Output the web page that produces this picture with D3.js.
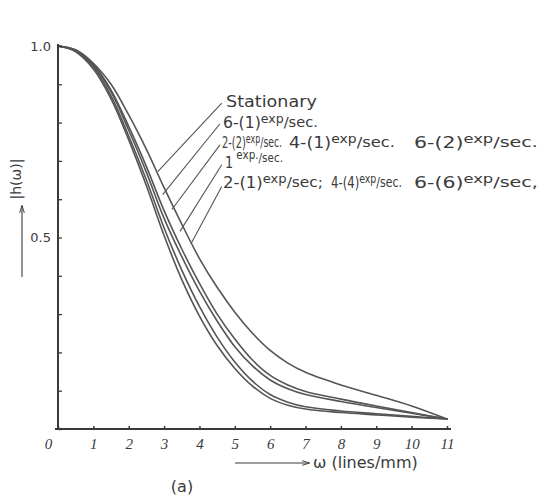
<!DOCTYPE html>
<html><head><meta charset="utf-8">
<script src="https://cdn.jsdelivr.net/npm/d3@7"></script>
<style>body{margin:0;background:#fff}svg{display:block}</style>
</head><body><svg id="c" width="551" height="497"></svg>
<script>
// ---- data ----
const omega = [0,0.5,1,1.5,2,2.5,3,3.5,4,4.5,5,5.5,6,6.5,7,8,9,10,11];
const stationary = [1,0.99,0.955,0.9,0.82,0.73,0.63,0.535,0.445,0.37,0.305,0.25,0.205,0.172,0.148,0.115,0.088,0.06,0.026];
const exp61      = [1,0.989,0.952,0.885,0.79,0.685,0.57,0.47,0.38,0.3,0.235,0.18,0.14,0.115,0.098,0.078,0.06,0.043,0.026];
const exp22      = [1,0.988,0.95,0.88,0.78,0.67,0.55,0.45,0.36,0.282,0.215,0.165,0.128,0.105,0.09,0.072,0.056,0.041,0.026];
const exp1       = [1,0.987,0.945,0.87,0.765,0.65,0.525,0.415,0.32,0.24,0.175,0.125,0.09,0.07,0.058,0.047,0.04,0.033,0.026];
const exp21      = [1,0.985,0.94,0.862,0.755,0.635,0.505,0.39,0.295,0.218,0.158,0.112,0.08,0.062,0.052,0.043,0.037,0.031,0.026];
const seriesList = [stationary, exp61, exp22, exp1, exp21];
const xTicks = [0,1,2,3,4,5,6,7,8,9,10,11];
const xTickLabels = ["0","1","2","3","4","5","6","7","8","9","10","11"];
const yMinorTicks = [0,0.1,0.2,0.3,0.4,0.5,0.6,0.7,0.8,0.9,1.0];
const yTickLabels = [0.5,1.0];
// leader lines: label-side anchor and curve-side anchor, as (omega, value)
const leaderFrom = [[4.63,0.851],[4.58,0.797],[4.58,0.742],[4.63,0.690],[4.63,0.633]];
const leaderTo   = [[2.82,0.672],[2.96,0.612],[3.22,0.573],[3.45,0.516],[3.78,0.487]];
// label groups: [main text, superscript, tail]
const labelLines = [
  [["Stationary","",""]],
  [["6-(1)","exp","/sec."]],
  [["2-(2)","exp","/sec."],["4-(1)","exp","/sec."],["6-(2)","exp","/sec."]],
  [["1","exp.","/sec."]],
  [["2-(1)","exp","/sec;"],["4-(4)","exp","/sec."],["6-(6)","exp","/sec,"]]
];
const xTitle = "ω (lines/mm)";
const yTitle = "|h(ω)|";
const caption = "(a)";

// ---- layout ----
const svg = d3.select("#c");
const x = d3.scaleLinear().domain([0,11]).range([58,447]);
const y = d3.scaleLinear().domain([0,1]).range([429,46]);
const ink = "#3a3a3a", curveInk = "#555";

// curves
const line = d3.line().x((d,i)=>x(omega[i])).y(d=>y(d)).curve(d3.curveCatmullRom.alpha(0.5));
svg.append("g").selectAll("path").data(seriesList).join("path")
  .attr("d", d=>line(d)).attr("fill","none").attr("stroke",curveInk)
  .attr("stroke-width",1.6).attr("stroke-linecap","round");

// x axis
const xa = svg.append("g").attr("transform",`translate(0,${y(0)})`)
  .call(d3.axisBottom(x).tickValues(xTicks).tickFormat((d,i)=>xTickLabels[i])
    .tickSizeInner(-3).tickSizeOuter(0).tickPadding(9));
xa.select(".domain").attr("stroke",ink).attr("stroke-width",2).attr("d",`M${x(0)-3},0H${x(11)+4}`);
xa.selectAll(".tick line").attr("stroke",ink).attr("stroke-width",1.5);
xa.selectAll(".tick text").attr("font-family","Liberation Serif, serif").attr("font-style","italic")
  .attr("font-size",15).attr("fill",ink).attr("dx",(d)=>d===0?-10:0);

// y axis minor ticks
const ya = svg.append("g").attr("transform",`translate(${x(0)},0)`)
  .call(d3.axisRight(y).tickValues(yMinorTicks).tickFormat("").tickSizeInner(4).tickSizeOuter(0));
ya.select(".domain").attr("stroke",ink).attr("stroke-width",2).attr("d",`M0,${y(1)-2}V${y(0)+1}`);
ya.selectAll(".tick line").attr("stroke",ink).attr("stroke-width",1.3);
const yl = svg.append("g").attr("transform",`translate(${x(0)},0)`)
  .call(d3.axisLeft(y).tickValues(yTickLabels).tickFormat(d3.format(".1f")).tickSize(0).tickPadding(7));
yl.select(".domain").remove();
yl.selectAll(".tick text").attr("font-family","DejaVu Sans, sans-serif").attr("font-size",13).attr("fill",ink);

// leaders
svg.append("g").selectAll("line").data(leaderFrom).join("line")
  .attr("x1",d=>x(d[0])).attr("y1",d=>y(d[1]))
  .attr("x2",(d,i)=>x(leaderTo[i][0])).attr("y2",(d,i)=>y(leaderTo[i][1]))
  .attr("stroke",curveInk).attr("stroke-width",1.1);

// labels (each group horizontally fitted to the width it takes in the reference)
const lineBase = [107,128,148,168,188];
const groupX = [[226],[223],[222,289,414],[225],[223,331,414]];
const groupW = [[91],[95],[60,106,124],[58],[100,71,124]];
labelLines.forEach((grps,li)=>{
  grps.forEach((g,gi)=>{
    const gg = svg.append("g");
    const t = gg.append("text").attr("x",0).attr("y",0)
      .attr("font-family","DejaVu Sans, sans-serif").attr("font-size",li===3?16:15).attr("fill",ink);
    t.append("tspan").text(g[0]);
    if(g[1]){
      if(li===3){
        t.append("tspan").attr("dy",-9).attr("dx",4).attr("font-size",13).text(g[1]);
        t.append("tspan").attr("dy",3).attr("font-size",13).text(g[2]);
      } else {
        t.append("tspan").attr("dy",-5).attr("font-size",12).text(g[1]);
        t.append("tspan").attr("dy",4).attr("font-size",14).text(g[2]);
      }
    }
    const w = t.node().getBBox().width;
    const sx = Math.max(0.6, Math.min(1.4, groupW[li][gi]/w));
    gg.attr("transform",`translate(${groupX[li][gi]},${lineBase[li]}) scale(${sx},1)`);
  });
});

// x title with arrow
svg.append("defs").append("marker").attr("id","ar").attr("viewBox","0 0 10 10")
  .attr("refX",9).attr("refY",5).attr("markerWidth",7).attr("markerHeight",7).attr("orient","auto")
  .append("path").attr("d","M0,2L10,5L0,8").attr("fill","none").attr("stroke",ink).attr("stroke-width",1.2);
svg.append("line").attr("x1",235).attr("y1",463).attr("x2",309).attr("y2",463)
  .attr("stroke",ink).attr("stroke-width",1.1).attr("marker-end","url(#ar)");
svg.append("text").attr("x",313).attr("y",468).attr("font-family","DejaVu Sans, sans-serif")
  .attr("font-size",16).attr("fill",ink).text(xTitle);

// y title with arrow
svg.append("line").attr("x1",22).attr("y1",277).attr("x2",22).attr("y2",206)
  .attr("stroke",ink).attr("stroke-width",1.1).attr("marker-end","url(#ar)");
svg.append("text").attr("transform","translate(21,179) rotate(-90)").attr("text-anchor","middle")
  .attr("font-family","DejaVu Sans, sans-serif").attr("font-size",14).attr("fill",ink).text(yTitle);

// caption
svg.append("text").attr("x",182).attr("y",492).attr("text-anchor","middle")
  .attr("font-family","DejaVu Sans, sans-serif").attr("font-size",16).attr("fill",ink).text(caption);
</script></body></html>
